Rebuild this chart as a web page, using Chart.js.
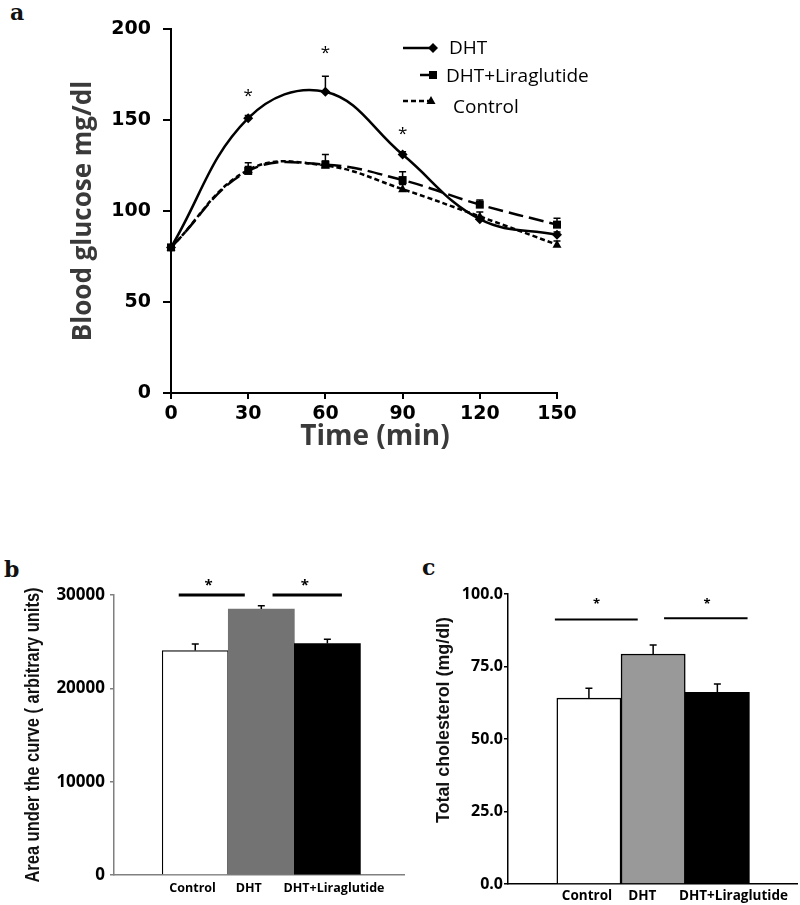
<!DOCTYPE html>
<html>
<head>
<meta charset="utf-8">
<script src="https://cdn.jsdelivr.net/npm/chart.js@4.4.1/dist/chart.umd.min.js"></script>
<style>
    body { margin: 0; width: 800px; height: 905px; background: #fff; position: relative; overflow: hidden; }
    canvas { position: absolute; }
    .tag { position: absolute; font-family: 'DejaVu Serif', serif; font-weight: bold; font-size: 22px; color: #111; line-height: 1; }
</style>
</head>
<body>
<div class="tag" style="left:10px; top:1px;">a</div>
<div class="tag" style="left:4px; top:558px;">b</div>
<div class="tag" style="left:422px; top:556px;">c</div>
<canvas id="glucoseChart" width="600" height="480" style="left:0; top:0;"></canvas>
<canvas id="aucChart" width="410" height="365" style="left:0; top:540px;"></canvas>
<canvas id="cholChart" width="400" height="365" style="left:400px; top:540px;"></canvas>
<script>
// Panel a - glucose tolerance test
const timePoints = [0, 30, 60, 90, 120, 150];
const dhtGlucose = [80, 151, 165.5, 131, 95.5, 87];
const dhtGlucoseErr = [0, 1.5, 8.5, 1.5, 1.5, 1.5];
const liraGlucose = [80, 122, 125.5, 117, 103.5, 92.5];
const liraGlucoseErr = [0, 4.5, 5.5, 4.5, 2.5, 3.5];
const controlGlucose = [80, 122.5, 125, 112, 97, 81.5];
const controlGlucoseErr = [0, 2, 2.5, 2.5, 2.5, 2];
const glucoseStars = [[30, 163], [60, 187], [90, 142]];

// Panels b and c - group bars
const groups = ['Control', 'DHT', 'DHT+Liraglutide'];
const aucValues = [24050, 28500, 24800];
const aucErr = [700, 350, 450];
const aucBrackets = [[0.75, 1.75, 30000], [2.17, 3.22, 30000]];
const aucStars = [[1.2, 31000], [2.66, 31000]];
const cholValues = [64.1, 79.3, 66.1];
const cholErr = [3.4, 3.1, 2.9];
const cholBrackets = [[0.47, 1.76, 91.2], [2.17, 3.47, 91.6]];
const cholStars = [[1.12, 96.6], [2.84, 96.6]];

const groupIndex = groups.map((_, i) => i + 1);

function drawMarker(ctx, style, x, y, r) {
    ctx.beginPath();
    if (style === 'rectRot') {
        ctx.moveTo(x, y - r); ctx.lineTo(x + r, y); ctx.lineTo(x, y + r); ctx.lineTo(x - r, y);
    } else if (style === 'rect') {
        ctx.rect(x - r * 0.8, y - r * 0.8, r * 1.6, r * 1.6);
    } else {
        ctx.moveTo(x, y - r); ctx.lineTo(x + r * 0.9, y + r * 0.6); ctx.lineTo(x - r * 0.9, y + r * 0.6);
    }
    ctx.closePath();
    ctx.fill();
}

// up-only error bars with a small cap
const errorBars = {
    id: 'errorBars',
    afterDatasetsDraw(chart) {
        const ctx = chart.ctx;
        const yScale = chart.scales.y;
        chart.data.datasets.forEach((ds, di) => {
            if (!ds.errors) return;
            const meta = chart.getDatasetMeta(di);
            meta.data.forEach((el, i) => {
                const err = ds.errors[i];
                if (!err) return;
                const raw = ds.data[i];
                const v = typeof raw === 'object' ? raw.y : raw;
                const top = yScale.getPixelForValue(v + err);
                ctx.save();
                ctx.strokeStyle = '#000';
                ctx.lineWidth = 1.5;
                ctx.setLineDash([]);
                ctx.beginPath();
                ctx.moveTo(el.x, el.y);
                ctx.lineTo(el.x, top);
                ctx.moveTo(el.x - 3.5, top);
                ctx.lineTo(el.x + 3.5, top);
                ctx.stroke();
                ctx.restore();
            });
        });
    }
};

function sigMarks(lines, stars, lineWidth, starFont) {
    return {
        id: 'sigMarks',
        afterDraw(chart) {
            const ctx = chart.ctx;
            const xs = chart.scales.x, ys = chart.scales.y;
            ctx.save();
            ctx.strokeStyle = '#000';
            ctx.lineWidth = lineWidth;
            lines.forEach(([x1, x2, y]) => {
                ctx.beginPath();
                ctx.moveTo(xs.getPixelForValue(x1), ys.getPixelForValue(y));
                ctx.lineTo(xs.getPixelForValue(x2), ys.getPixelForValue(y));
                ctx.stroke();
            });
            ctx.fillStyle = '#000';
            ctx.font = starFont;
            ctx.textAlign = 'center';
            ctx.textBaseline = 'middle';
            stars.forEach(([x, y]) => {
                ctx.fillText('*', xs.getPixelForValue(x), ys.getPixelForValue(y));
            });
            ctx.restore();
        }
    };
}

// rotated y title squeezed to a given length (the source figure is condensed)
function squeezedTitle(text, font, x, shiftY, length) {
    return {
        id: 'squeezedTitle',
        afterDraw(chart) {
            const ctx = chart.ctx;
            const area = chart.chartArea;
            ctx.save();
            ctx.translate(x, (area.top + area.bottom) / 2 + shiftY);
            ctx.rotate(-Math.PI / 2);
            ctx.font = font;
            ctx.fillStyle = '#111';
            ctx.textAlign = 'center';
            ctx.textBaseline = 'middle';
            ctx.fillText(text, 0, 0, length);
            ctx.restore();
        }
    };
}

// legend for panel a: line sample + marker + label, stacked
const legendLayout = [
    { from: 403, to: 433, y: 48, textX: 449, textY: 49 },
    { from: 420, to: 433, y: 75, textX: 446, textY: 77 },
    { from: 403, to: 431, y: 101, textX: 453, textY: 108 }
];
const glucoseLegend = {
    id: 'glucoseLegend',
    afterDraw(chart) {
        const ctx = chart.ctx;
        ctx.save();
        chart.data.datasets.forEach((ds, i) => {
            const l = legendLayout[i];
            ctx.strokeStyle = '#000';
            ctx.fillStyle = '#000';
            ctx.lineWidth = 2.5;
            ctx.setLineDash(ds.legendDash);
            ctx.beginPath();
            ctx.moveTo(l.from, l.y);
            ctx.lineTo(l.to, l.y);
            ctx.stroke();
            ctx.setLineDash([]);
            drawMarker(ctx, ds.pointStyle, l.to, l.y, 5);
            ctx.font = "19px 'Open Sans'";
            ctx.textBaseline = 'middle';
            ctx.textAlign = 'left';
            ctx.fillText(ds.label, l.textX, l.textY);
        });
        ctx.restore();
    }
};

const customMarkers = {
    id: 'customMarkers',
    afterDatasetsDraw(chart) {
        const ctx = chart.ctx;
        ctx.save();
        ctx.fillStyle = '#000';
        chart.data.datasets.forEach((ds, di) => {
            chart.getDatasetMeta(di).data.forEach(el => drawMarker(ctx, ds.pointStyle, el.x, el.y, 5));
        });
        ctx.restore();
    }
};

function lineSet(label, means, errs, dash, legendDash, style) {
    return {
        label: label,
        data: timePoints.map((t, i) => ({ x: t, y: means[i] })),
        errors: errs,
        borderColor: '#000',
        borderWidth: 2.5,
        borderDash: dash,
        legendDash: legendDash,
        pointStyle: style,
        pointRadius: 0,
        tension: 0.4,
        fill: false,
        clip: false
    };
}

new Chart(document.getElementById('glucoseChart'), {
    type: 'line',
    data: {
        datasets: [
            lineSet('DHT', dhtGlucose, dhtGlucoseErr, [], [], 'rectRot'),
            lineSet('DHT+Liraglutide', liraGlucose, liraGlucoseErr, [15, 6], [], 'rect'),
            lineSet('Control', controlGlucose, controlGlucoseErr, [5, 3], [5, 3], 'triangle')
        ]
    },
    options: {
        responsive: false,
        animation: false,
        layout: { padding: { top: 29, right: 43 } },
        plugins: { legend: { display: false }, tooltip: { enabled: false } },
        scales: {
            x: {
                type: 'linear', min: 0, max: 150,
                afterFit: s => { s.height = 87; },
                ticks: { stepSize: 30, color: '#000', padding: 4, font: { family: 'DejaVu Sans', size: 19, weight: 'bold' } },
                grid: { drawOnChartArea: false, tickLength: 6, color: '#000', lineWidth: 2 },
                border: { color: '#000', width: 2 },
                title: { display: true, text: '   Time (min)', color: '#3a3a3a', padding: { bottom: 26 }, font: { family: 'Open Sans', size: 28, weight: 'bold' } }
            },
            y: {
                min: 0, max: 200,
                afterFit: s => { s.width = 171; },
                ticks: { stepSize: 50, color: '#000', padding: 12, font: { family: 'DejaVu Sans', size: 19, weight: 'bold' } },
                grid: { drawOnChartArea: false, tickLength: 8, color: '#000', lineWidth: 2 },
                border: { color: '#000', width: 2 },
                title: { display: true, text: 'Blood glucose mg/dl', color: '#3a3a3a', padding: { top: 68 }, font: { family: 'Open Sans', size: 26, weight: 'bold' } }
            }
        }
    },
    plugins: [errorBars, customMarkers, glucoseLegend, sigMarks([], glucoseStars, 0, "17px 'Open Sans'")]
});

function barOptions(cfg) {
    return {
        responsive: false,
        animation: false,
        layout: { padding: { top: cfg.top, right: cfg.right } },
        plugins: { legend: { display: false }, tooltip: { enabled: false } },
        scales: {
            x: {
                type: 'linear', min: cfg.xMin, max: cfg.xMax, offset: false,
                afterFit: s => { s.height = cfg.xHeight; },
                // category names sit a little off the bar centres in the source figure
                afterBuildTicks: s => { s.ticks = cfg.labelAt.map(v => ({ value: v })); },
                ticks: {
                    callback: (v, i) => groups[i], autoSkip: false, maxRotation: 0, minRotation: 0,
                    color: '#000', padding: cfg.xPad, font: { family: 'Open Sans', size: cfg.xFont, weight: 'bold' }
                },
                grid: { display: false, drawTicks: false },
                border: { color: cfg.axisColor, width: 1.5 }
            },
            y: {
                min: 0, max: cfg.yMax,
                afterFit: s => { s.width = cfg.yWidth; },
                ticks: { stepSize: cfg.yStep, color: '#000', padding: cfg.yPad, callback: cfg.yFormat, font: { family: 'Open Sans', size: cfg.yFont, weight: 'bold' } },
                grid: { drawOnChartArea: false, tickLength: 4, color: cfg.axisColor, lineWidth: 1.5 },
                border: { color: cfg.axisColor, width: 1.5 }
            }
        }
    };
}

new Chart(document.getElementById('aucChart'), {
    type: 'bar',
    data: {
        datasets: [{
            data: groupIndex.map((x, i) => ({ x: x, y: aucValues[i] })),
            errors: aucErr,
            backgroundColor: ['#ffffff', '#737373', '#000000'],
            borderColor: '#000',
            borderWidth: [1.2, 0, 0],
            barThickness: 'flex',
            barPercentage: 1,
            categoryPercentage: 1
        }]
    },
    options: barOptions({
        top: 55, right: 6, xMin: -0.23, xMax: 4.16, xHeight: 30, xPad: 6, xFont: 12.5,
        labelAt: [0.96, 1.81, 3.1],
        yMax: 30000, yStep: 10000, yWidth: 114, yPad: 5, yFont: 17, yFormat: v => v,
        axisColor: '#808080'
    }),
    plugins: [errorBars, sigMarks(aucBrackets, aucStars, 3, "bold 15px 'Open Sans'"),
        squeezedTitle('Area under the curve ( arbitrary units)', "bold 21px 'Liberation Sans'", 33, 0, 295)]
});

new Chart(document.getElementById('cholChart'), {
    type: 'bar',
    data: {
        datasets: [{
            data: groupIndex.map((x, i) => ({ x: x, y: cholValues[i] })),
            errors: cholErr,
            backgroundColor: ['#ffffff', '#999999', '#000000'],
            borderColor: '#000',
            borderWidth: 1.5,
            barThickness: 'flex',
            barPercentage: 1,
            categoryPercentage: 1
        }]
    },
    options: barOptions({
        top: 54, right: 3, xMin: -0.26, xMax: 4.24, xHeight: 21, xPad: 4, xFont: 13.5,
        labelAt: [0.97, 1.83, 3.25],
        yMax: 100, yStep: 25, yWidth: 108, yPad: 1, yFont: 16, yFormat: v => v.toFixed(1),
        axisColor: '#000'
    }),
    plugins: [errorBars, sigMarks(cholBrackets, cholStars, 2, "bold 13px 'Open Sans'"),
        squeezedTitle('Total cholesterol (mg/dl)', "bold 19px 'Liberation Sans'", 44, -19, 206)]
});
</script>
</body>
</html>
